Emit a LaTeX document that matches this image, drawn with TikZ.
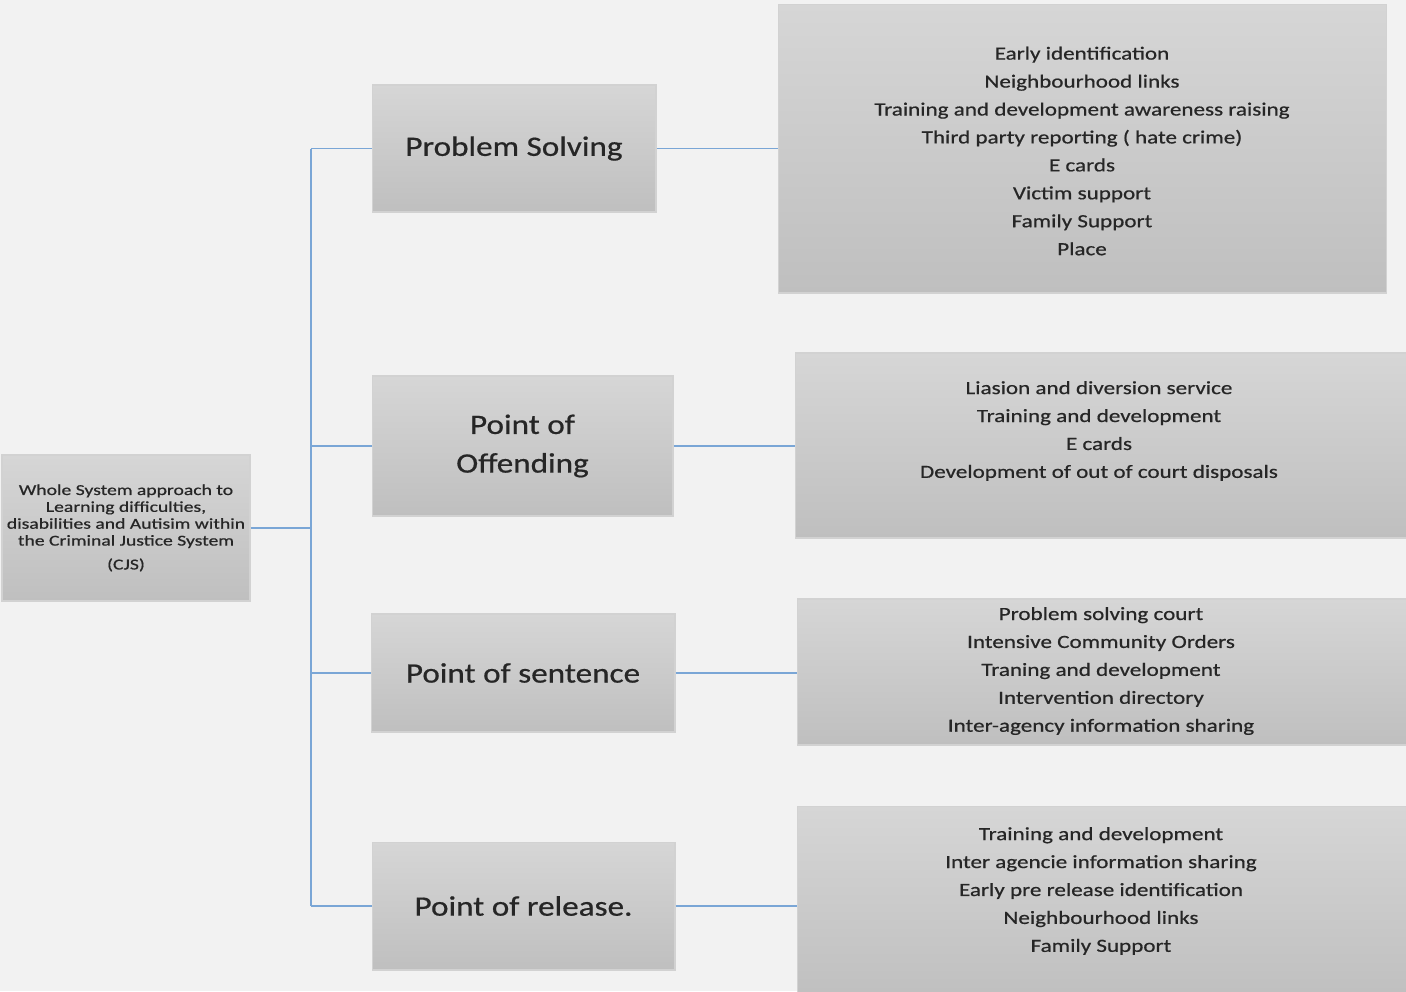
\documentclass[tikz,border=0pt]{standalone}
\usepackage{fontspec}
\setmainfont{Carlito}
\newfontfamily\stagefont[FakeStretch=1.18, FakeBold=0.6]{Carlito}
\newfontfamily\listfont[FakeStretch=1.24, FakeBold=0.6]{Carlito}
\newfontfamily\rootfont[FakeStretch=1.3, FakeBold=0.6]{Carlito}
\usetikzlibrary{positioning, calc}
\definecolor{pagegray}{HTML}{F2F2F2}
\definecolor{boxtop}{HTML}{D6D6D6}
\definecolor{boxbottom}{HTML}{BFBFBF}
\definecolor{boxedge}{HTML}{D2D2D2}
\definecolor{linkblue}{HTML}{7AA6D6}
\definecolor{inkgray}{HTML}{262626}

\begin{document}
\begin{tikzpicture}[
    x=0.02cm, y=-0.02cm,
    every node/.style={text=inkgray},
    block/.style={draw=boxedge, line width=0.6pt, top color=boxtop, bottom color=boxbottom, align=center, inner sep=0pt},
    root/.style={block, minimum width=4.96cm, minimum height=2.92cm, font=\rootfont\fontsize{8.6}{9.6}\selectfont},
    stage/.style={block, font=\stagefont\fontsize{16}{22}\selectfont},
    detail/.style={block},
    items/.style={align=center, font=\listfont\fontsize{10.6}{15.9}\selectfont},
    link/.style={draw=linkblue, line width=0.85pt}
]
    % Page
    \fill[pagegray] (0,0) rectangle (1406,991);
    \useasboundingbox (0,0) rectangle (1406,991);

    % Root
    \node[root] (whole) at (126,528) {Whole System approach to\\Learning difficulties,\\disabilities and Autisim within\\the Criminal Justice System\\[0.14cm](CJS)};

    % Stages
    \node[stage, minimum width=5.68cm, minimum height=2.54cm] (solving) at (514,148.5) {Problem Solving};
    \node[stage, minimum width=6.02cm, minimum height=2.8cm] (offending) at (522.5,446) {Point of\\Offending};
    \node[stage, minimum width=6.08cm, minimum height=2.36cm] (sentence) at (523,673) {Point of sentence};
    \node[stage, minimum width=6.06cm, minimum height=2.56cm] (release) at (523.5,906) {Point of release.};

    % Detail boxes
    \node[detail, minimum width=12.18cm, minimum height=5.78cm] (solvingbox) at (1082.5,148.5) {};
    \node[detail, minimum width=12.34cm, minimum height=3.7cm] (offendingbox) at (1103.5,445.5) {};
    \node[detail, minimum width=12.3cm, minimum height=2.92cm] (sentencebox) at (1104.5,672) {};
    \node[detail, minimum width=12.3cm, minimum height=3.88cm] (releasebox) at (1104.5,903) {};

    % Detail texts
    \node[items] (solvinglist) at (1082,151) {Early identification\\Neighbourhood links\\Training and development awareness raising\\Third party reporting ( hate crime)\\E cards\\Victim support\\Family Support\\Place};
    \node[items] (offendinglist) at (1099,431) {Liasion and diversion service\\Training and development\\E cards\\Development of out of court disposals};
    \node[items] (sentencelist) at (1101,671) {Problem solving court\\Intensive Community Orders\\Traning and development\\Intervention directory\\Inter-agency information sharing};
    \node[items] (releaselist) at (1101,891) {Training and development\\Inter agencie information sharing\\Early pre release identification\\Neighbourhood links\\Family Support};

    % Connectors
    \coordinate (spine) at (311,528);
    \draw[link] (whole.east) -- (spine);
    \draw[link] (solving.west -| spine) -- (release.west -| spine);
    \foreach \s in {solving, offending, sentence, release}
        \draw[link] (\s.west -| spine) -- (\s.west);
    \draw[link] (solving) -- (solvingbox);
    \draw[link] (offending) -- (offendingbox.west |- offending);
    \draw[link] (sentence) -- (sentencebox.west |- sentence);
    \draw[link] (release) -- (releasebox.west |- release);
\end{tikzpicture}
\end{document}
